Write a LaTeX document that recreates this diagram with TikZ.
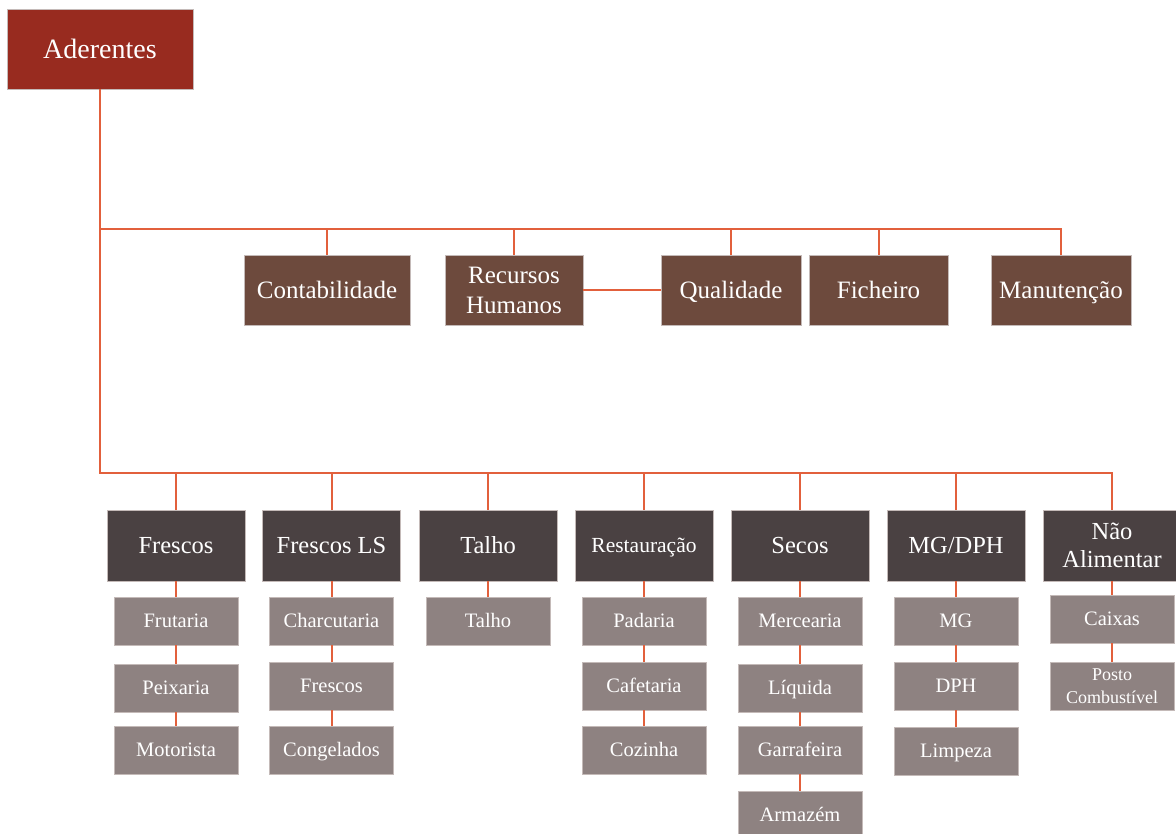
\documentclass[tikz,border=0pt]{standalone}
\usepackage{fontspec}
\setmainfont{Liberation Serif}
\definecolor{rootred}{HTML}{982B1F}
\definecolor{deptbrown}{HTML}{6D4A3D}
\definecolor{catdark}{HTML}{4A4142}
\definecolor{subgray}{HTML}{8E8281}
\definecolor{linkorange}{HTML}{E2603C}
\definecolor{edgegray}{HTML}{C4BAB8}
\begin{document}
\begin{tikzpicture}[x=1pt,y=-1pt,
  box/.style={draw=edgegray,line width=0.9pt,text=white,inner sep=0pt,align=center,text depth=0pt},
  twoline/.style={text height={},text depth={}},
  root/.style={box,fill=rootred,minimum width=186pt,minimum height=80pt,
               font=\fontsize{28}{32}\selectfont,text height=18.5pt},
  dept/.style={box,fill=deptbrown,minimum height=70pt,
               font=\fontsize{25}{30}\selectfont,text height=16.5pt},
  cat/.style={box,fill=catdark,minimum width=138pt,minimum height=71pt,
              font=\fontsize{24.5}{28}\selectfont,text height=16.2pt},
  sub/.style={box,fill=subgray,minimum width=124pt,minimum height=48pt,
              font=\fontsize{20.5}{24}\selectfont,text height=13.5pt},
  link/.style={draw=linkorange,line width=2pt}
]
\useasboundingbox (0,0) rectangle (1176,834);
\clip (0,0) rectangle (1176,834);

% root
\node[root] (ad) at (100,49) {Aderentes};

% support departments
\node[dept,minimum width=166pt] (cont) at (327,290) {Contabilidade};
\node[dept,twoline,minimum width=138pt] (rh) at (514,290) {Recursos\\Humanos};
\node[dept,minimum width=140pt] (qual) at (731,290) {Qualidade};
\node[dept,minimum width=139pt] (fich) at (878.5,290) {Ficheiro};
\node[dept,minimum width=140pt] (man) at (1061,290) {Manutenção};

% store sections
\node[cat] (fr) at (176,545.5) {Frescos};
\node[cat] (frls) at (331.5,545.5) {Frescos LS};
\node[cat] (ta) at (488,545.5) {Talho};
\node[cat,font=\fontsize{21.5}{26}\selectfont,text height=14.2pt] (re) at (644,545.5) {Restauração};
\node[cat] (se) at (800,545.5) {Secos};
\node[cat] (mg) at (956,545.5) {MG/DPH};
\node[cat,twoline] (na) at (1112,545.5) {Não\\Alimentar};

% sub-sections
\node[sub] (frut) at (176,621) {Frutaria};
\node[sub] (peix) at (176,688) {Peixaria};
\node[sub] (moto) at (176,750) {Motorista};

\node[sub] (charc) at (331.5,621) {Charcutaria};
\node[sub] (fres) at (331.5,686) {Frescos};
\node[sub] (cong) at (331.5,750) {Congelados};

\node[sub] (tal) at (488,621) {Talho};

\node[sub] (pad) at (644,621) {Padaria};
\node[sub] (caf) at (644,686) {Cafetaria};
\node[sub] (coz) at (644,750) {Cozinha};

\node[sub] (merc) at (800,621) {Mercearia};
\node[sub] (liq) at (800,688) {Líquida};
\node[sub] (garr) at (800,750) {Garrafeira};
\node[sub] (arm) at (800,815) {Armazém};

\node[sub] (mgs) at (956,621) {MG};
\node[sub] (dph) at (956,686) {DPH};
\node[sub] (limp) at (956,751) {Limpeza};

\node[sub] (cx) at (1112,619) {Caixas};
\node[sub,twoline,font=\fontsize{18}{23}\selectfont] (posto) at (1112,686) {Posto\\Combustível};

% bus lines
\coordinate (tb) at (100,229);
\coordinate (bb) at (100,473);
\draw[link] (ad.south) -- (bb) -| (na.north);
\draw[link] (tb) -| (man.north);
\foreach \n in {cont,rh,qual,fich}
  \draw[link] (\n.north) -- (\n.north |- tb);
\foreach \n in {fr,frls,ta,re,se,mg}
  \draw[link] (\n.north) -- (\n.north |- bb);
\draw[link] (rh.east) -- (qual.west);

% chains below each section
\foreach \a/\b in {fr/frut,frut/peix,peix/moto,
                   frls/charc,charc/fres,fres/cong,
                   ta/tal,
                   re/pad,pad/caf,caf/coz,
                   se/merc,merc/liq,liq/garr,garr/arm,
                   mg/mgs,mgs/dph,dph/limp,
                   na/cx,cx/posto}
  \draw[link] (\a.south) -- (\b.north);
\end{tikzpicture}
\end{document}
